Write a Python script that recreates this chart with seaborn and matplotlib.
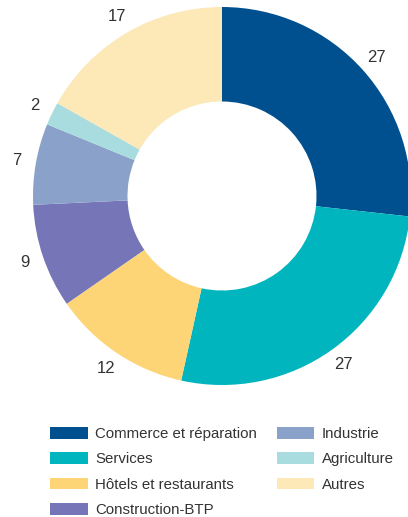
import matplotlib.pyplot as plt
import seaborn as sns
from matplotlib.patches import Patch

# data
secteurs = ['Commerce et réparation', 'Services', 'Hôtels et restaurants',
            'Construction-BTP', 'Industrie', 'Agriculture', 'Autres']
parts = [27, 27, 12, 9, 7, 2, 17]
couleurs = ['#00508f', '#00b5bd', '#fdd576', '#7575b8', '#8aa2c9', '#a8dcdf', '#fde8b7']

sns.set_theme(style='white')
plt.rcParams['font.family'] = ['Liberation Sans', 'DejaVu Sans']

fig = plt.figure(figsize=(4.08, 5.17), dpi=100)
ax = fig.add_axes([33 / 408, 132 / 517, 378 / 408, 378 / 517])

wedges, texts = ax.pie(parts, colors=couleurs, startangle=90, counterclock=False,
                       labels=[str(p) for p in parts], labeldistance=1.1,
                       radius=1, wedgeprops=dict(width=0.5, linewidth=0),
                       textprops=dict(fontsize=12, color='#333333'))
for w in wedges:
    w.set_clip_on(False)
for t in texts:
    t.set_ha('center')
    t.set_va('center')
ax.set_xlim(-1, 1)
ax.set_ylim(-1, 1)
ax.set_aspect('equal')
ax.axis('off')

handles = [Patch(facecolor=c, edgecolor='none') for c in couleurs]
fig.legend(handles, secteurs, ncol=2, frameon=False, loc='upper left',
           bbox_to_anchor=(50 / 408, 90 / 517), fontsize=10.8,
           handlelength=2.5, handleheight=0.8, handletextpad=0.5,
           labelspacing=0.76, columnspacing=1.33, borderpad=0, borderaxespad=0,
           labelcolor='#333333')

fig.savefig('out.png', dpi=100)
